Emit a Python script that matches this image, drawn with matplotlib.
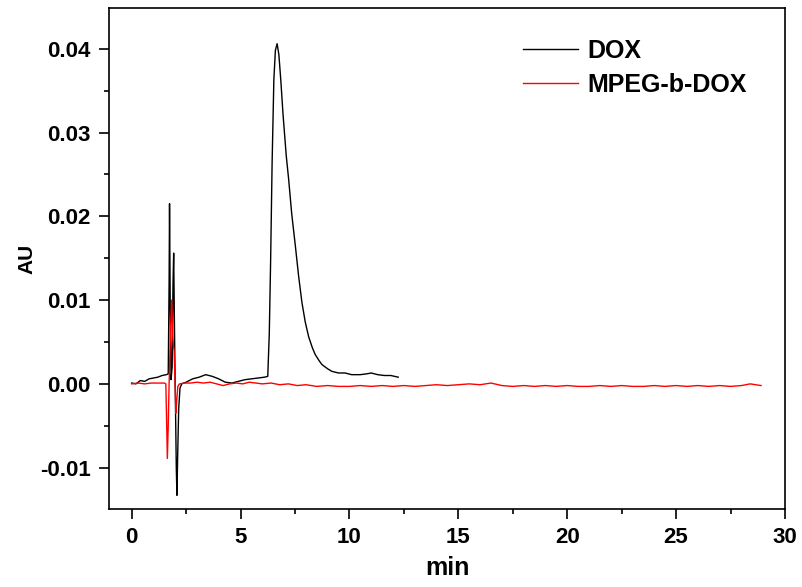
import matplotlib
matplotlib.use("Agg")
import matplotlib.pyplot as plt
from matplotlib.ticker import MultipleLocator, FormatStrFormatter

plt.rcParams['font.family'] = ['Liberation Sans', 'DejaVu Sans']
plt.rcParams['font.weight'] = 'bold'

# DOX trace (time in min, absorbance in AU)
dox_t = [0.0, 0.2, 0.4, 0.6, 0.8, 1.0, 1.2, 1.4, 1.6, 1.68, 1.72, 1.74, 1.77,
         1.81, 1.86, 1.90, 1.93, 1.97, 2.01, 2.05, 2.08, 2.11, 2.16, 2.22, 2.3,
         2.5, 2.8, 3.1, 3.4, 3.7, 4.0, 4.3, 4.6, 4.9, 5.2, 5.5, 5.8, 6.1, 6.25,
         6.32, 6.38, 6.45, 6.53, 6.6, 6.68, 6.76, 6.85, 6.95, 7.1, 7.21, 7.35,
         7.52, 7.67, 7.82, 7.97, 8.13, 8.3, 8.43, 8.6, 8.74, 9.0, 9.19, 9.5,
         9.8, 10.1, 10.5, 10.8, 11.0, 11.3, 11.6, 11.9, 12.24]
dox_au = [0.0001, 0.0000, 0.0004, 0.0003, 0.0006, 0.0007, 0.0008, 0.0010,
          0.0011, 0.0012, 0.0120, 0.0215, 0.0100, 0.0005, 0.0020, 0.0120,
          0.0156, 0.0060, -0.0020, -0.0100, -0.0133, -0.0090, -0.0030,
          -0.0005, 0.0000, 0.0002, 0.0006, 0.0008, 0.0011, 0.0009, 0.0006,
          0.0002, 0.0001, 0.0003, 0.0005, 0.0006, 0.0007, 0.0008, 0.0009,
          0.0060, 0.0144, 0.0264, 0.0363, 0.0398, 0.0406, 0.0393, 0.0362,
          0.0322, 0.0272, 0.0244, 0.0203, 0.0164, 0.0128, 0.0097, 0.0074,
          0.0056, 0.0043, 0.0035, 0.0028, 0.0023, 0.0018, 0.0015, 0.0013,
          0.0013, 0.0011, 0.0011, 0.0012, 0.0013, 0.0011, 0.0010, 0.0010,
          0.0008]

# MPEG-b-DOX trace
mpeg_t = [0.0, 0.3, 0.6, 0.9, 1.2, 1.5, 1.57, 1.61, 1.64, 1.68, 1.72, 1.78,
          1.84, 1.88, 1.92, 1.95, 1.99, 2.03, 2.07, 2.12, 2.2, 2.4, 2.7, 3.0,
          3.3, 3.6, 3.9, 4.2, 4.5, 4.8, 5.1, 5.4, 5.7, 6.0, 6.4, 6.8, 7.2,
          7.6, 8.0, 8.5, 9.0, 9.5, 10.0, 10.5, 11.0, 11.5, 12.0, 12.5, 13.0,
          13.5, 14.0, 14.5, 15.0, 15.5, 16.0, 16.5, 17.0, 17.5, 18.0, 18.5,
          19.0, 19.5, 20.0, 20.5, 21.0, 21.5, 22.0, 22.5, 23.0, 23.5, 24.0,
          24.5, 25.0, 25.5, 26.0, 26.5, 27.0, 27.5, 28.0, 28.4, 28.9]
mpeg_au = [0.0000, 0.0001, 0.0000, 0.0001, 0.0001, 0.0001, 0.0000, -0.0050,
           -0.0089, -0.0050, 0.0000, 0.0060, 0.0100, 0.0060, 0.0045, 0.0040,
           0.0005, -0.0035, -0.0020, -0.0003, 0.0000, 0.0001, 0.0001, 0.0002,
           0.0001, 0.0002, 0.0000, -0.0002, 0.0000, 0.0001, 0.0000, 0.0002,
           0.0001, 0.0000, 0.0001, -0.0001, 0.0000, -0.0002, -0.0001,
           -0.0003, -0.0002, -0.0003, -0.0003, -0.0002, -0.0003, -0.0002,
           -0.0003, -0.0002, -0.0003, -0.0002, -0.0001, -0.0002, -0.0001,
           0.0000, -0.0001, 0.0001, -0.0002, -0.0003, -0.0002, -0.0003,
           -0.0002, -0.0003, -0.0002, -0.0003, -0.0003, -0.0002, -0.0003,
           -0.0002, -0.0003, -0.0003, -0.0002, -0.0003, -0.0002, -0.0003,
           -0.0002, -0.0003, -0.0002, -0.0003, -0.0002, 0.0000, -0.0002]

fig = plt.figure(figsize=(8.02, 5.87), dpi=100)
ax = fig.add_axes([0.1359, 0.1329, 0.8429, 0.8535])

ax.plot(dox_t, dox_au, color='black', lw=1.0, label='DOX')
ax.plot(mpeg_t, mpeg_au, color='red', lw=1.0, label='MPEG-b-DOX')

ax.set_xlim(-1.04, 30)
ax.set_ylim(-0.01493, 0.04486)

ax.xaxis.set_major_locator(MultipleLocator(5))
ax.xaxis.set_minor_locator(MultipleLocator(2.5))
ax.yaxis.set_major_locator(MultipleLocator(0.01))
ax.yaxis.set_minor_locator(MultipleLocator(0.005))
ax.yaxis.set_major_formatter(FormatStrFormatter('%.2f'))

ax.tick_params(which='major', direction='out', length=7, width=1.2,
               labelsize=16, pad=6)
ax.tick_params(which='minor', direction='out', length=3.5, width=1.2)
for s in ax.spines.values():
    s.set_linewidth(1.2)

ax.set_xlabel('min', fontsize=18, fontweight='bold', labelpad=6)
ax.set_ylabel('AU', fontsize=15, fontweight='bold', labelpad=3)

ax.legend(loc='upper left', bbox_to_anchor=(0.612, 0.939), frameon=False,
          fontsize=18, handlelength=2.2, handletextpad=0.4, labelspacing=0.4,
          borderpad=0, borderaxespad=0)

fig.savefig('out.png', dpi=100)
